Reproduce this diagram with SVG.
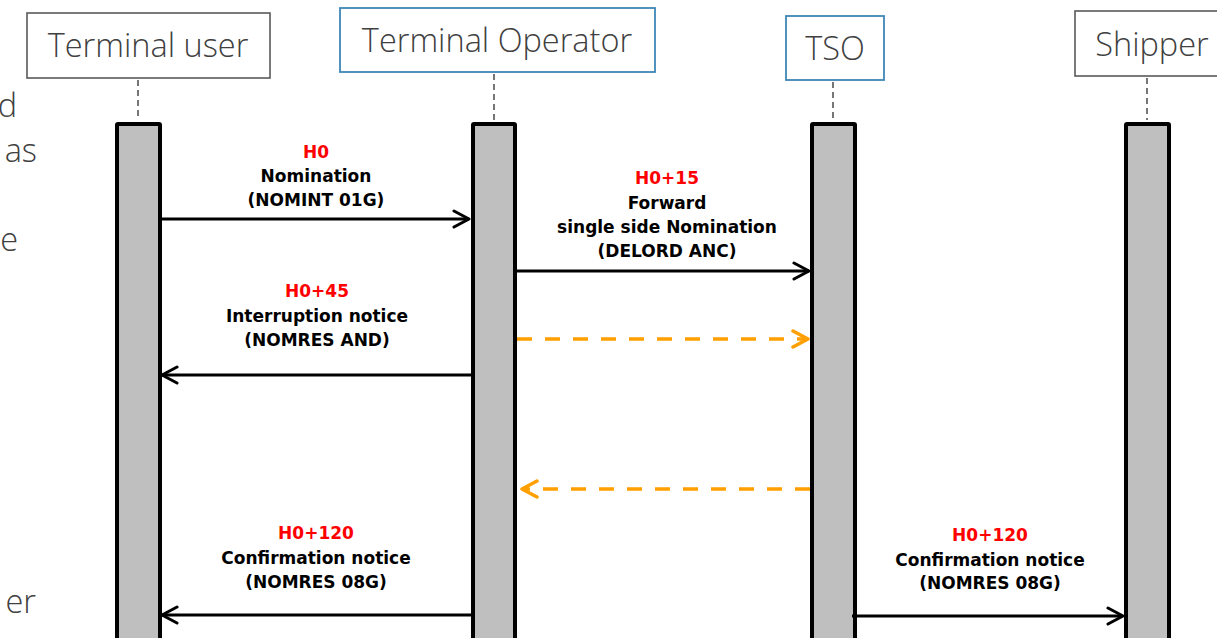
<svg xmlns="http://www.w3.org/2000/svg" width="1217" height="638" viewBox="0 0 1217 638">
<style>
.hdr{font-family:"Open Sans","Noto Sans","Liberation Sans",sans-serif;font-weight:300;font-size:32.5px;fill:#404040;text-anchor:middle}
.side{font-family:"Open Sans","Noto Sans","Liberation Sans",sans-serif;font-weight:300;font-size:32.5px;fill:#404040;text-anchor:end}
.boxg{fill:#fff;stroke:#595959;stroke-width:1.6}
.boxb{fill:#fff;stroke:#3d87b6;stroke-width:1.8}
.life{stroke:#555;stroke-width:1.6;stroke-dasharray:6 4;fill:none}
.bar{fill:#bfbfbf;stroke:#000;stroke-width:4}
.lbl{font-family:"DejaVu Sans","Liberation Sans",sans-serif;font-weight:bold;font-size:17px;fill:#000;text-anchor:middle}
.red{fill:#ff0000}
.msg{stroke:#000;stroke-width:3;fill:none}
.alt{stroke:#ff9f00;stroke-width:3.5;stroke-dasharray:15 13;fill:none}
</style>
<defs>
<marker id="ah" markerUnits="userSpaceOnUse" markerWidth="20" markerHeight="20" viewBox="-17 -10 20 20" refX="0" refY="0" orient="auto">
<path d="M-15,-8 L0,0 L-15,8" fill="none" stroke="#000" stroke-width="3" stroke-linecap="round" stroke-linejoin="round"/>
</marker>
<marker id="aho" markerUnits="userSpaceOnUse" markerWidth="20" markerHeight="20" viewBox="-17 -10 20 20" refX="0" refY="0" orient="auto">
<path d="M-15,-8 L0,0 L-15,8" fill="none" stroke="#ff9f00" stroke-width="3.5" stroke-linecap="round" stroke-linejoin="round"/>
</marker>
</defs>
<rect width="1217" height="638" fill="#fff"/>
<g id="side-text">
<text class="side" x="17" y="117">d</text>
<text class="side" x="37" y="162">as</text>
<text class="side" x="18" y="251">e</text>
<text class="side" x="36" y="613">er</text>
</g>
<g id="terminal-user">
<rect class="boxg" x="27" y="13" width="243" height="65"/>
<text class="hdr" x="148" y="57">Terminal user</text>
<line class="life" x1="138" y1="80" x2="138" y2="120"/>
<rect class="bar" x="117" y="124" width="43" height="530" rx="1"/>
</g>
<g id="terminal-operator">
<rect class="boxb" x="340" y="8" width="315" height="64"/>
<text class="hdr" x="497" y="52">Terminal Operator</text>
<line class="life" x1="494" y1="74" x2="494" y2="120"/>
<rect class="bar" x="473" y="124" width="42" height="530" rx="1"/>
</g>
<g id="tso">
<rect class="boxb" x="786" y="16" width="98" height="64"/>
<text class="hdr" x="835" y="60">TSO</text>
<line class="life" x1="833" y1="82" x2="833" y2="120"/>
<rect class="bar" x="812" y="124" width="43" height="530" rx="1"/>
</g>
<g id="shipper">
<rect class="boxg" x="1075" y="11" width="160" height="65"/>
<text class="hdr" x="1152" y="56">Shipper</text>
<line class="life" x1="1147" y1="78" x2="1147" y2="120"/>
<rect class="bar" x="1126" y="124" width="43" height="530" rx="1"/>
</g>
<g id="connectors">
<line class="msg" x1="161" y1="219" x2="469" y2="219" marker-end="url(#ah)"/>
<line class="msg" x1="517" y1="271" x2="809" y2="271" marker-end="url(#ah)"/>
<line class="msg" x1="471" y1="375" x2="162" y2="375" marker-end="url(#ah)"/>
<line class="alt" x1="517" y1="339" x2="808" y2="339" marker-end="url(#aho)"/>
<line class="alt" x1="810" y1="489" x2="522" y2="489" marker-end="url(#aho)"/>
<line class="msg" x1="471" y1="615" x2="162" y2="615" marker-end="url(#ah)"/>
<line class="msg" x1="852" y1="616" x2="1123" y2="616" marker-end="url(#ah)"/>
</g>
<g id="labels">
<text class="lbl red" x="316" y="158">H0</text>
<text class="lbl" x="316" y="182">Nomination</text>
<text class="lbl" x="316" y="206">(NOMINT 01G)</text>
<text class="lbl red" x="667" y="184">H0+15</text>
<text class="lbl" x="667" y="209">Forward</text>
<text class="lbl" x="667" y="233">single side Nomination</text>
<text class="lbl" x="667" y="257">(DELORD ANC)</text>
<text class="lbl red" x="317" y="297">H0+45</text>
<text class="lbl" x="317" y="322">Interruption notice</text>
<text class="lbl" x="317" y="346">(NOMRES AND)</text>
<text class="lbl red" x="316" y="539">H0+120</text>
<text class="lbl" x="316" y="564">Confirmation notice</text>
<text class="lbl" x="316" y="588">(NOMRES 08G)</text>
<text class="lbl red" x="990" y="541">H0+120</text>
<text class="lbl" x="990" y="566">Confirmation notice</text>
<text class="lbl" x="990" y="589">(NOMRES 08G)</text>
</g>
</svg>
